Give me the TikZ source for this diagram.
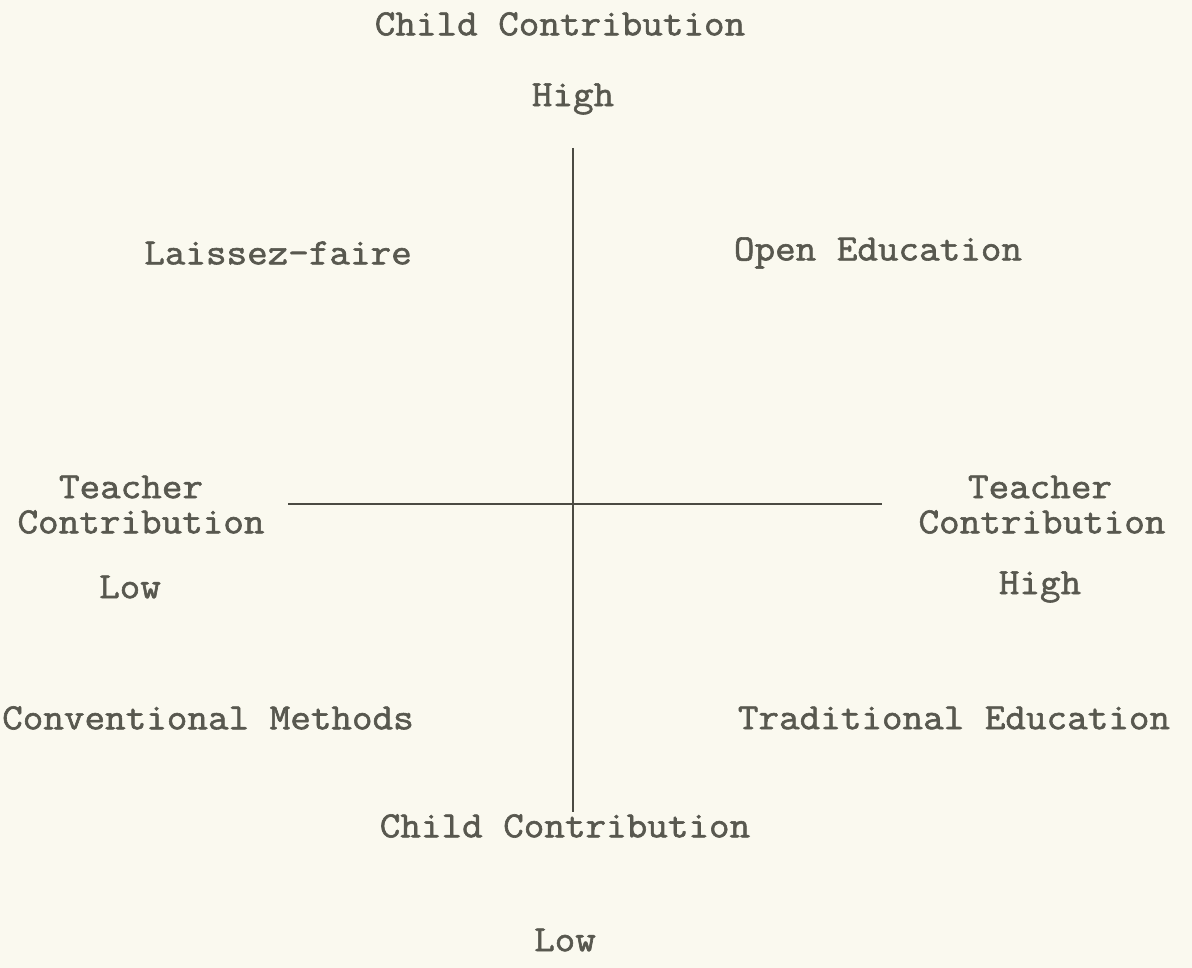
\documentclass[tikz,border=0pt]{standalone}
\usepackage{fontspec}
\setmonofont[FakeBold=1.6,FakeStretch=1.08]{Latin Modern Mono}
\definecolor{paper}{HTML}{FAF9EF}
\definecolor{ink}{HTML}{58584F}
\begin{document}
\begin{tikzpicture}[x=1pt,y=1pt,
  lbl/.style={text=ink,font=\fontsize{37}{31}\selectfont\ttfamily,inner sep=0pt,anchor=center},
  axis/.style={draw=ink!85!black,line width=2pt}]
  \fill[paper] (0,0) rectangle (1192,968);
  \useasboundingbox (0,0) rectangle (1192,968);
  % quadrant axes
  \coordinate (vtop) at (573,820);
  \coordinate (vbot) at (573,156);
  \coordinate (hl) at (288,464);
  \coordinate (hr) at (882,464);
  \draw[axis] (vtop) -- (vbot);
  \draw[axis] (hl) -- (hr);
  % axis labels
  \node[lbl] (cctop) at (560,944) {Child Contribution};
  \node[lbl] (chigh) at (573,869) {High};
  \node[lbl] (ccbot) at (565,142) {Child Contribution};
  \node[lbl] (clow) at (565,28) {Low};
  \node[lbl] (tcla) at (131,481) {Teacher};
  \node[lbl] (tclb) at (141,446) {Contribution};
  \node[lbl] (tlow) at (130,381) {Low};
  \node[lbl] (tcra) at (1040,481) {Teacher};
  \node[lbl] (tcrb) at (1042,446) {Contribution};
  \node[lbl] (thigh) at (1040,381) {High};
  % quadrant names
  \node[lbl] (lf) at (278,715) {Laissez-faire};
  \node[lbl] (oe) at (878,715) {Open Education};
  \node[lbl] (cm) at (208,250) {Conventional Methods};
  \node[lbl] (te) at (954,250) {Traditional Education};
\end{tikzpicture}
\end{document}
